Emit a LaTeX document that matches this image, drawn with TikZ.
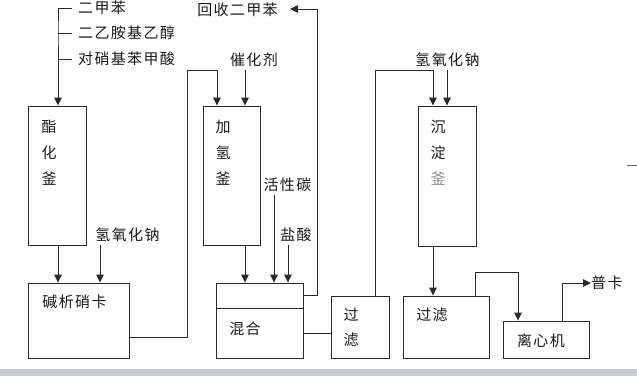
\documentclass[tikz,border=0pt]{standalone}
\usepackage{fontspec}
\newfontfamily\cjk[LetterSpace=9]{Noto Sans CJK SC}
\usetikzlibrary{arrows.meta,calc}
\definecolor{ln}{HTML}{2A2A2A}
\definecolor{band}{HTML}{C9CBD6}
\tikzset{
  box/.style={draw=ln, line width=0.9pt, inner sep=0pt},
  lbl/.style={inner sep=0pt, text=black!90, font=\cjk\fontsize{15}{15}\selectfont},
  vlbl/.style={lbl, align=center, font=\cjk\fontsize{15}{26}\selectfont},
  cn/.style={draw=ln, line width=0.9pt},
  arr/.style={cn, -{Triangle[length=8pt,width=7.5pt]}}
}
\begin{document}
\begin{tikzpicture}[x=1pt,y=-1pt]
\useasboundingbox (0,0) rectangle (637,376);
\fill[band] (0,369) rectangle (637,376);
% boxes
\node[box, minimum width=58pt, minimum height=139pt] (r1) at (57,175.5) {};
\node[box, minimum width=57pt, minimum height=139pt] (r2) at (231.5,175.5) {};
\node[box, minimum width=58pt, minimum height=140pt] (r3) at (447,176) {};
\node[box, minimum width=101pt, minimum height=75pt] (b1) at (78.5,320.5) {};
\node[box, minimum width=87pt, minimum height=75pt] (b2) at (259.5,320.5) {};
\node[box, minimum width=58pt, minimum height=62pt] (b3) at (360,327) {};
\node[box, minimum width=86pt, minimum height=62pt] (b4) at (446,327) {};
\node[box, minimum width=86pt, minimum height=37pt] (b5) at (546,339.5) {};
\draw[cn] (b2.west |- 0,308) coordinate (dv1) -- (b2.east |- 0,308) coordinate (dv2);
% box labels
\node[vlbl] (t1) at (49,153) {酯\\化\\釜};
\node[vlbl] (t2) at (223,153) {加\\氢\\釜};
\node[vlbl] (t3) at (438,153) {沉\\淀\\{\color{black!45}釜}};
\node[lbl] (t4) at (74.5,302) {碱析硝卡};
\node[lbl] (t5) at (245,329) {混合};
\node[vlbl, font=\cjk\fontsize{15}{25}\selectfont] (t6) at (351,327.5) {过\\滤};
\node[lbl] (t7) at (432,315) {过滤};
\node[lbl] (t8) at (541,341) {离心机};
% outside labels
\node[lbl, anchor=west] (f1) at (78,8) {二甲苯};
\node[lbl, anchor=west] (f2) at (78,33) {二乙胺基乙醇};
\node[lbl, anchor=west] (f3) at (78,59) {对硝基苯甲酸};
\node[lbl] (rec) at (237.5,10) {回收二甲苯};
\node[lbl] (cat) at (254,60) {催化剂};
\node[lbl] (na2) at (447.5,60) {氢氧化钠};
\node[lbl] (ac) at (287.5,185) {活性碳};
\node[lbl] (hcl) at (296,235) {盐酸};
\node[lbl] (na1) at (127.5,235) {氢氧化钠};
\node[lbl, anchor=west] (pk) at (591,283) {普卡};
% feed line
\coordinate (fa) at (58,8);
\coordinate (fb) at (58,33);
\coordinate (fc) at (58,59);
\draw[cn] (72,8) coordinate (fe1) -- (fa) -- (fb) -- (fc);
\draw[arr] (fc) -- (r1.north -| fc);
\draw[cn] (fb) -- (72,33) coordinate (fe2);
\draw[cn] (fc) -- (72,59) coordinate (fe3);
% left column
\draw[arr] (r1.south -| fc) -- (b1.north -| fc);
\coordinate (n1) at (100,245);
\draw[arr] (n1) -- (b1.north -| n1);
\draw[arr] (b1.east |- 0,337) -- (187,337) -- (187,70) -- (217,70) -- (r2.north -| 217,0);
\coordinate (c1) at (245,70);
\draw[arr] (c1) -- (r2.north -| c1);
% middle
\draw[arr] (r2.south -| c1) -- (b2.north -| c1);
\coordinate (a1) at (274,195);
\draw[arr] (a1) -- (b2.north -| a1);
\coordinate (h1) at (288,245);
\draw[arr] (h1) -- (b2.north -| h1);
\coordinate (rt) at (290,9);
\draw[arr] (b2.east |- 0,295) -- (317,295) -- (317,9) -- (rt);
\draw[cn] (b2.east |- 0,333) -- (b3.west |- 0,333);
% right
\draw[arr] (b3.north -| 375,0) -- (375,70) -- (433,70) -- (r3.north -| 433,0);
\coordinate (n2) at (447,70);
\draw[arr] (n2) -- (r3.north -| n2);
\draw[arr] (r3.south -| 433,0) -- (b4.north -| 433,0);
\draw[arr] (b4.north -| 475,0) -- (475,272) -- (518,272) -- (b5.north -| 518,0);
\draw[arr] (b5.north -| 562,0) -- (562,283) -- (pk.west);
% stray mark
\draw[draw=black!60, line width=0.8pt] (627,165) coordinate (m1) -- (637,165) coordinate (m2);
\end{tikzpicture}
\end{document}
